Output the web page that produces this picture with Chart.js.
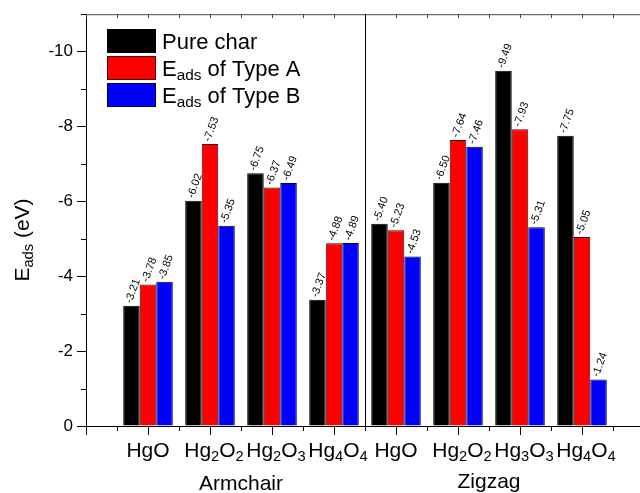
<!DOCTYPE html>
<html>
<head>
<meta charset="utf-8">
<script src="https://cdn.jsdelivr.net/npm/chart.js@4.4.0/dist/chart.umd.min.js"></script>
<style>
  html, body { margin: 0; padding: 0; background: #fff; width: 640px; height: 493px; overflow: hidden; }
  #wrap { width: 660px; height: 493px; }
</style>
</head>
<body>
<div id="wrap"><canvas id="c" width="660" height="493"></canvas></div>
<script>
// Adsorption energies (eV) of Hg species on char edges
const categories = ['HgO', 'Hg_{2}O_{2}', 'Hg_{2}O_{3}', 'Hg_{4}O_{4}',
                    'HgO', 'Hg_{2}O_{2}', 'Hg_{3}O_{3}', 'Hg_{4}O_{4}'];
const edgeGroups = ['Armchair', 'Zigzag'];
const seriesNames = ['Pure char', 'E_{ads} of Type A', 'E_{ads} of Type B'];
const pureChar = [-3.21, -6.02, -6.75, -3.37, -5.40, -6.50, -9.49, -7.75];
const typeA    = [-3.78, -7.53, -6.37, -4.88, -5.23, -7.64, -7.93, -5.05];
const typeB    = [-3.85, -5.35, -6.49, -4.89, -4.53, -7.46, -5.31, -1.24];
const yTicks = [0, -2, -4, -6, -8, -10];
const yTitle = 'E_{ads} (eV)';

const FONT = '"Liberation Sans", Arial, sans-serif';
const fillColors = ['#000000', '#ff0000', '#0000ff'];
const edgeColors = ['#000000', '#4a0000', '#000040'];

// empty slot at each end of the category axis
const labels = ['', ...categories, ''];
const pad = arr => [null, ...arr, null];

function parseRich(s) {
  const parts = [];
  const re = /_\{([^}]*)\}/g;
  let last = 0, m;
  while ((m = re.exec(s))) {
    if (m.index > last) parts.push({ t: s.slice(last, m.index), sub: false });
    parts.push({ t: m[1], sub: true });
    last = re.lastIndex;
  }
  if (last < s.length) parts.push({ t: s.slice(last), sub: false });
  return parts;
}
function richWidth(ctx, s, size) {
  let w = 0;
  for (const p of parseRich(s)) {
    ctx.font = `${p.sub ? size * 0.7 : size}px ${FONT}`;
    w += ctx.measureText(p.t).width;
  }
  return w;
}
function drawRich(ctx, s, x, y, size) {
  ctx.textAlign = 'left';
  ctx.textBaseline = 'alphabetic';
  let cx = x;
  for (const p of parseRich(s)) {
    ctx.font = `${p.sub ? size * 0.7 : size}px ${FONT}`;
    ctx.fillText(p.t, cx, p.sub ? y + size * 0.2 : y);
    cx += ctx.measureText(p.t).width;
  }
}

const decorations = {
  id: 'decorations',
  afterDatasetsDraw(chart) {
    const ctx = chart.ctx;
    ctx.save();
    ctx.fillStyle = '#000';
    ctx.font = `11px ${FONT}`;
    ctx.textAlign = 'left';
    ctx.textBaseline = 'alphabetic';
    chart.data.datasets.forEach((ds, di) => {
      const meta = chart.getDatasetMeta(di);
      meta.data.forEach((bar, i) => {
        const v = ds.data[i];
        if (v === null || v === undefined) return;
        ctx.save();
        ctx.translate(bar.x, bar.y - 2);
        ctx.rotate(-70 * Math.PI / 180);
        ctx.fillText(v.toFixed(2), 0, 0);
        ctx.restore();
      });
    });
    ctx.restore();
  },
  afterDraw(chart) {
    const ctx = chart.ctx;
    const { left, right, top, bottom } = chart.chartArea;
    const xs = chart.scales.x, ys = chart.scales.y;
    ctx.save();
    ctx.strokeStyle = '#000';
    ctx.lineWidth = 1;

    // top frame line with inward ticks
    ctx.strokeStyle = '#444';
    ctx.beginPath();
    ctx.moveTo(left, top + 0.5); ctx.lineTo(right, top + 0.5);
    for (let v = 0; v <= labels.length - 1; v += 0.5) {
      const px = Math.round(xs.getPixelForValue(v)) + 0.5;
      ctx.moveTo(px, top); ctx.lineTo(px, top + 4);
    }
    ctx.stroke();

    // bottom ticks: long at categories, short between
    ctx.strokeStyle = '#000';
    ctx.beginPath();
    for (let v = 0; v <= labels.length - 1; v += 0.5) {
      const px = Math.round(xs.getPixelForValue(v)) + 0.5;
      const len = Number.isInteger(v) ? 9 : 5;
      ctx.moveTo(px, bottom); ctx.lineTo(px, bottom + len);
    }
    // left minor ticks
    for (let v = -1; v >= -11; v -= 2) {
      const py = Math.round(ys.getPixelForValue(v)) + 0.5;
      ctx.moveTo(left - 5, py); ctx.lineTo(left, py);
    }
    ctx.stroke();

    // separator between armchair and zigzag
    const sx = Math.round(xs.getPixelForValue(4.5)) + 0.5;
    ctx.beginPath();
    ctx.moveTo(sx, top); ctx.lineTo(sx, bottom);
    ctx.stroke();

    // category labels
    ctx.fillStyle = '#000';
    categories.forEach((c, i) => {
      const cx = xs.getPixelForValue(i + 1);
      const w = richWidth(ctx, c, 21);
      const shift = c.includes('_{') ? 4 : 0;
      drawRich(ctx, c, cx - w / 2 + shift, 457, 21);
    });
    // edge type labels
    ctx.font = `21px ${FONT}`;
    ctx.textAlign = 'center';
    ctx.textBaseline = 'alphabetic';
    ctx.fillText(edgeGroups[0], xs.getPixelForValue(2.5), 490);
    ctx.fillText(edgeGroups[1], xs.getPixelForValue(6.5), 488);

    // y axis title
    ctx.save();
    const tw = richWidth(ctx, yTitle, 21);
    ctx.translate(29, 240);
    ctx.rotate(-Math.PI / 2);
    drawRich(ctx, yTitle, -tw / 2, 0, 21);
    ctx.restore();

    // legend
    const bx = 107, bw = 49, bh = 24, step = 27, by0 = 29;
    seriesNames.forEach((name, i) => {
      const by = by0 + i * step;
      ctx.fillStyle = fillColors[i];
      ctx.fillRect(bx, by, bw, bh);
      ctx.strokeStyle = edgeColors[i];
      ctx.strokeRect(bx + 0.5, by + 0.5, bw - 1, bh - 1);
      ctx.fillStyle = '#000';
      drawRich(ctx, name, 162, by + bh / 2 + 8, 22);
    });
    ctx.restore();
  }
};

new Chart(document.getElementById('c'), {
  type: 'bar',
  data: {
    labels: labels,
    datasets: [pureChar, typeA, typeB].map((vals, i) => ({
      label: seriesNames[i],
      data: pad(vals),
      backgroundColor: fillColors[i],
      borderColor: edgeColors[i],
      borderWidth: 1,
      categoryPercentage: 0.8,
      barPercentage: 1.0
    }))
  },
  options: {
    responsive: false,
    animation: false,
    devicePixelRatio: 1,
    layout: { padding: { left: 0, top: 14, right: 16, bottom: 0 } },
    plugins: { legend: { display: false }, tooltip: { enabled: false } },
    scales: {
      x: {
        type: 'category',
        offset: false,
        grid: { display: false },
        border: { display: true, color: '#000', width: 1 },
        ticks: { display: false, autoSkip: false },
        afterFit: s => { s.height = 67; }
      },
      y: {
        reverse: true,
        min: -11,
        max: 0,
        afterBuildTicks: s => { s.ticks = yTicks.map(v => ({ value: v })); },
        afterFit: s => { s.width = 86; },
        grid: { display: true, drawOnChartArea: false, drawTicks: true, tickLength: 9, color: '#000' },
        border: { display: true, color: '#000', width: 1 },
        ticks: { padding: 4, color: '#000', font: { family: FONT, size: 17 } }
      }
    }
  },
  plugins: [decorations]
});
</script>
</body>
</html>
